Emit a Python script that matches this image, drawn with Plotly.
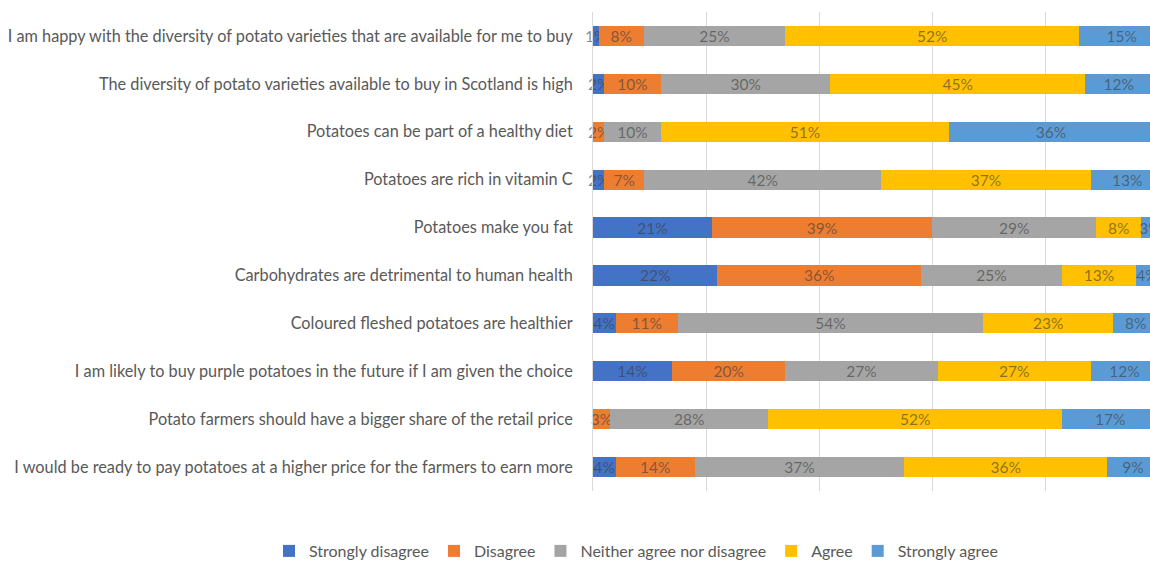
import plotly.graph_objects as go

statements = [
    "I am happy with the diversity of potato varieties that are available for me to buy",
    "The diversity of potato varieties available to buy in Scotland is high",
    "Potatoes can be part of a healthy diet",
    "Potatoes are rich in vitamin C",
    "Potatoes make you fat",
    "Carbohydrates are detrimental to human health",
    "Coloured fleshed potatoes are healthier",
    "I am likely to buy purple potatoes in the future if I am given the choice",
    "Potato farmers should have a bigger share of the retail price",
    "I would be ready to pay potatoes at a higher price for the farmers to earn more",
]

strongly_disagree = [1, 2, 0, 2, 21, 22, 4, 14, 0, 4]
disagree = [8, 10, 2, 7, 39, 36, 11, 20, 3, 14]
neither = [25, 30, 10, 42, 29, 25, 54, 27, 28, 37]
agree = [52, 45, 51, 37, 8, 13, 23, 27, 52, 36]
strongly_agree = [15, 12, 36, 13, 3, 4, 8, 12, 17, 9]

series_names = ["Strongly disagree", "Disagree", "Neither agree nor disagree", "Agree", "Strongly agree"]
series_values = [strongly_disagree, disagree, neither, agree, strongly_agree]
series_colors = ["#4472C4", "#ED7D31", "#A5A5A5", "#FFC000", "#5B9BD5"]

FONT = "Lato"
W, H = 1164, 572
L, R, T = 593, 0, 12
PLOT_BOTTOM = 491
B = H - PLOT_BOTTOM
PW, PH = W - L - R, H - T - B

fig = go.Figure()
for name, vals, col in zip(series_names, series_values, series_colors):
    fig.add_trace(go.Bar(
        y=statements, x=vals, name=name, orientation="h",
        marker=dict(color=col, line=dict(width=0)),
        text=[f"{v}%" for v in vals],
        textposition="inside", insidetextanchor="middle", textangle=0,
        constraintext="none",
        textfont=dict(family=FONT, size=15.5, color="rgba(60,60,60,0.6)"),
        cliponaxis=False,
    ))

fig.update_layout(
    barmode="stack",
    bargap=0.58,
    width=W, height=H,
    margin=dict(l=L, r=R, t=T, b=B),
    paper_bgcolor="white", plot_bgcolor="white",
    font=dict(family=FONT, size=16, color="#595959"),
    uniformtext=dict(minsize=15.5, mode="show"),
    legend=dict(orientation="h", xref="paper", x=(269 - L) / PW, xanchor="left",
                yref="paper", y=-(551 - PLOT_BOTTOM) / PH, yanchor="middle",
                font=dict(family=FONT, size=16, color="#595959"),
                itemwidth=30, traceorder="normal"),
    showlegend=True,
)
fig.update_xaxes(range=[0, 101], dtick=20, showgrid=True, gridcolor="#D9D9D9",
                 gridwidth=1, showticklabels=False, zeroline=False, showline=False, ticks="")
fig.update_yaxes(autorange="reversed", showline=True, linecolor="#D9D9D9", linewidth=1,
                 ticks="", ticklabelstandoff=16,
                 tickfont=dict(family=FONT, size=16.3, color="#595959"))

fig.write_html("out.html", config={"displayModeBar": False},
               post_script="document.body.style.margin='0px';document.body.style.overflow='hidden';")
